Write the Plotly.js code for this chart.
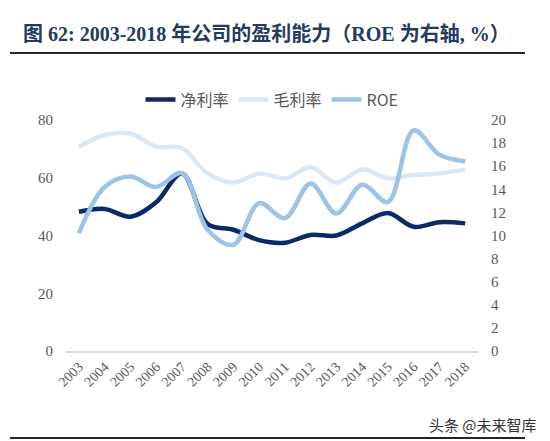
<!DOCTYPE html>
<html>
<head>
<meta charset="utf-8">
<script src="https://cdn.plot.ly/plotly-3.0.1.min.js"></script>
<style>
  html, body { margin: 0; padding: 0; background: #ffffff; }
  #chart { width: 550px; height: 441px; }
</style>
</head>
<body>
<div id="chart"></div>
<script>
// Years on the category axis
const years = ['2003','2004','2005','2006','2007','2008','2009','2010',
               '2011','2012','2013','2014','2015','2016','2017','2018'];

// Net profit margin (%), left axis
const netMargin = [48.2, 49.2, 46.5, 51.5, 61.5, 44.0, 42.0, 38.4,
                   37.5, 40.2, 40.0, 44.2, 47.8, 43.0, 44.6, 44.2];

// Gross profit margin (%), left axis
const grossMargin = [70.8, 74.8, 75.3, 70.8, 70.2, 61.5, 58.3, 61.5,
                     59.8, 63.6, 58.3, 62.9, 59.8, 61.0, 61.5, 62.9];

// ROE (%), right axis
const roe = [10.2, 14.2, 15.1, 14.2, 15.4, 10.5, 9.2, 12.8,
             11.5, 14.5, 11.9, 14.4, 12.9, 19.1, 17.0, 16.4];

const serif = '"Liberation Serif", "Times New Roman", serif';
const cjk = '"Noto Sans CJK SC", "Noto Sans", sans-serif';
const tickGray = '#595959';

const traces = [
  {
    x: years, y: netMargin, name: '净利率', type: 'scatter', mode: 'lines',
    line: { color: '#0c2a63', width: 4.5, shape: 'spline', smoothing: 1 },
    yaxis: 'y'
  },
  {
    x: years, y: grossMargin, name: '毛利率', type: 'scatter', mode: 'lines',
    line: { color: '#dbe7f4', width: 4.5, shape: 'spline', smoothing: 1 },
    yaxis: 'y'
  },
  {
    x: years, y: roe, name: 'ROE', type: 'scatter', mode: 'lines',
    line: { color: '#9dc3e6', width: 4.5, shape: 'spline', smoothing: 1 },
    yaxis: 'y2'
  }
];

const layout = {
  width: 550,
  height: 441,
  margin: { l: 66, r: 72, t: 120, b: 90 },
  paper_bgcolor: '#ffffff',
  plot_bgcolor: '#ffffff',
  showlegend: true,
  title: {
    text: '图 62: 2003-2018 年公司的盈利能力（ROE 为右轴, %）',
    font: { family: '"Liberation Serif", "Noto Sans CJK SC", serif', size: 20, color: '#243a60', weight: 'bold' },
    x: 23 / 550, xanchor: 'left', xref: 'container',
    y: 1 - 34 / 441, yanchor: 'middle', yref: 'container'
  },
  legend: {
    orientation: 'h',
    x: 0.5, xanchor: 'center',
    y: 1.015, yanchor: 'bottom',
    font: { family: cjk, size: 16, color: tickGray },
    itemwidth: 30,
    traceorder: 'normal'
  },
  xaxis: {
    type: 'category',
    range: [-0.5, 15.5],
    showgrid: false,
    zeroline: false,
    showline: true,
    linecolor: '#d9d9d9',
    linewidth: 2,
    ticks: '',
    tickangle: -45,
    tickfont: { family: serif, size: 14, color: tickGray },
    fixedrange: true
  },
  yaxis: {
    range: [0, 80],
    dtick: 20,
    showgrid: false,
    zeroline: false,
    showline: false,
    ticks: '',
    ticklabelstandoff: 12,
    tickfont: { family: serif, size: 15, color: tickGray }
  },
  yaxis2: {
    range: [0, 20],
    dtick: 2,
    overlaying: 'y',
    side: 'right',
    showgrid: false,
    zeroline: false,
    showline: false,
    ticks: '',
    ticklabelstandoff: 12,
    tickfont: { family: serif, size: 15, color: tickGray }
  },
  shapes: [
    { type: 'line', xref: 'paper', yref: 'paper',
      x0: -56 / 412, x1: 459 / 412, y0: 1 + 67 / 231, y1: 1 + 67 / 231,
      line: { color: '#262626', width: 2 } },
    { type: 'line', xref: 'paper', yref: 'paper',
      x0: -56 / 412, x1: 459 / 412, y0: -87 / 231, y1: -87 / 231,
      line: { color: '#262626', width: 2 } }
  ],
  annotations: [
    { text: '头条 @未来智库', xref: 'paper', yref: 'paper',
      x: 473 / 412, xanchor: 'right', y: -73 / 231, yanchor: 'middle',
      showarrow: false,
      font: { family: cjk, size: 15, color: '#333333' } }
  ]
};

Plotly.newPlot('chart', traces, layout, { displayModeBar: false, staticPlot: true });
</script>
</body>
</html>
